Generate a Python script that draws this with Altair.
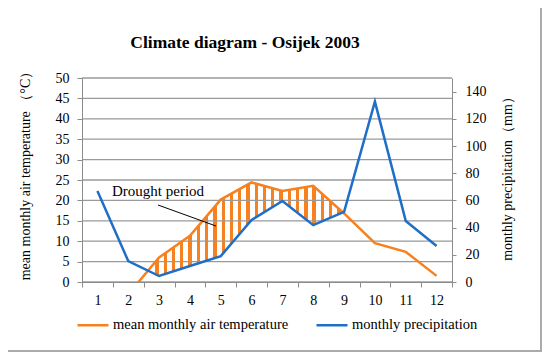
import altair as alt
import pandas as pd

# ---- data ----
months = list(range(1, 13))
temperature = [-1.0, -3.0, 6.0, 11.3, 20.2, 24.4, 22.3, 23.6, 16.8, 9.5, 7.4, 1.5]
precipitation = [67.0, 15.4, 4.4, 11.8, 19.0, 45.6, 59.6, 41.8, 51.5, 132.6, 44.9, 26.5]
temp_ticks = [0, 5, 10, 15, 20, 25, 30, 35, 40, 45, 50]
precip_ticks = [0, 20, 40, 60, 80, 100, 120, 140]
series_names = ["mean monthly air temperature", "monthly precipitation"]
title_text = "Climate diagram - Osijek 2003"
annotation_text = "Drought period"

# ---- style ----
FONT = "Liberation Serif"
ORANGE = "#F7801F"
BLUE = "#1F6FC8"
GRID = "#9a9a9a"
AXIS = "#8c8c8c"
W, H = 370, 204

df = pd.DataFrame({"month": months, "temp": temperature, "precip": precipitation})
ticks_df = pd.DataFrame({"t": temp_ticks})

# vertical stripe gradient (hatching)
n = 41
stops = []
for i in range(n):
    stops += [
        {"offset": i / n, "color": ORANGE},
        {"offset": (i + 0.4) / n, "color": ORANGE},
        {"offset": (i + 0.4) / n, "color": "#ffffff"},
        {"offset": (i + 1) / n, "color": "#ffffff"},
    ]
stripe_fill = alt.Gradient(gradient="linear", stops=stops, x1=0, x2=1, y1=0, y2=0)

xenc = alt.X(
    "month:O",
    scale=alt.Scale(type="band", paddingInner=0, paddingOuter=0),
    axis=alt.Axis(
        title=None, labelAngle=0, tickBand="extent", labelFont=FONT, labelFontSize=14,
        labelColor="black", tickColor=AXIS, domainColor=AXIS, tickSize=5,
        labelPadding=6, zindex=1,
    ),
)
tscale = alt.Scale(domain=[0, 50], nice=False, zero=False)
taxis = alt.Axis(
    values=temp_ticks, grid=False, orient="left",
    title="mean monthly air temperature （°C）",
    titleFont=FONT, titleFontSize=14, titleFontWeight="normal", titleColor="black",
    titleAngle=270, titleX=-57, titleY=94, titleAlign="center", titleBaseline="middle",
    labelFont=FONT, labelFontSize=14, labelColor="black",
    tickColor=AXIS, domainColor=AXIS, tickSize=5, labelPadding=8, zindex=1,
)

base = alt.Chart(df)

stripes = base.mark_area(fill=stripe_fill, clip=True).encode(
    x=xenc,
    y=alt.Y("temp:Q", scale=tscale, axis=taxis),
    y2=alt.datum(0),
)

cover = base.transform_calculate(pt="datum.precip / 3").mark_area(
    color="white", opacity=1, clip=True
).encode(x=xenc, y=alt.Y("pt:Q", scale=tscale, axis=taxis), y2=alt.datum(0))

grid = alt.Chart(ticks_df).mark_rule(color=GRID, strokeWidth=1.3).encode(
    y=alt.Y("t:Q", scale=tscale, axis=taxis)
)

color_scale = alt.Scale(domain=series_names, range=[ORANGE, BLUE])

tline = base.transform_calculate(series=f"'{series_names[0]}'").mark_line(
    strokeWidth=2.5, clip=True
).encode(
    x=xenc,
    y=alt.Y("temp:Q", scale=tscale, axis=taxis),
    color=alt.Color(
        "series:N", scale=color_scale,
        legend=alt.Legend(
            title=None, orient="none", legendX=-6, legendY=230, direction="horizontal",
            symbolType="stroke", symbolSize=961, symbolStrokeWidth=2.5,
            labelFont=FONT, labelFontSize=14.5, labelColor="black", labelLimit=400,
            labelOffset=3, columnPadding=22,
        ),
    ),
)

temp_layers = alt.layer(stripes, cover, grid, tline)

pline = base.transform_calculate(series=f"'{series_names[1]}'").mark_line(
    strokeWidth=2.5, clip=True
).encode(
    x=xenc,
    y=alt.Y(
        "precip:Q",
        scale=alt.Scale(domain=[0, 150], nice=False),
        axis=alt.Axis(
            values=precip_ticks, grid=False, orient="right",
            title="monthly precipitation（mm）",
            titleFont=FONT, titleFontSize=14, titleFontWeight="normal", titleColor="black",
            titleAngle=270, titleX=55, titleY=97, titleAlign="center", titleBaseline="middle",
            labelFont=FONT, labelFontSize=14, labelColor="black",
            tickColor=AXIS, domainColor=AXIS, tickSize=4, labelPadding=9, zindex=1,
        ),
    ),
    color=alt.Color("series:N", scale=color_scale),
)

title = alt.Chart(pd.DataFrame({"t": [title_text]})).mark_text(
    font=FONT, fontSize=17.5, fontWeight="bold", color="black", baseline="middle", align="center"
).encode(text="t:N", x=alt.value(163), y=alt.value(-35))

ann_text = alt.Chart(pd.DataFrame({"t": [annotation_text]})).mark_text(
    font=FONT, fontSize=15, color="black", baseline="middle", align="left"
).encode(text="t:N", x=alt.value(30), y=alt.value(113))

ann_line = alt.Chart(pd.DataFrame({"a": [0]})).mark_rule(color="black", strokeWidth=1).encode(
    x=alt.value(76), y=alt.value(127), x2=alt.value(134), y2=alt.value(148)
)

border = alt.Chart(pd.DataFrame({"a": [0]})).mark_rect(
    fillOpacity=0, stroke="#ababab", strokeWidth=2
).encode(x=alt.value(-77), x2=alt.value(459), y=alt.value(-73), y2=alt.value(273))

chart = (
    alt.layer(temp_layers, pline, ann_text, ann_line, title, border)
    .resolve_scale(y="independent")
    .properties(
        width=W, height=H,
        autosize=alt.AutoSizeParams(type="none"),
        padding={"left": 74, "top": 70, "right": 90, "bottom": 70},
    )
    .configure_view(stroke=None)
)

chart.save("out.html", embed_options={"renderer": "svg", "actions": False})
